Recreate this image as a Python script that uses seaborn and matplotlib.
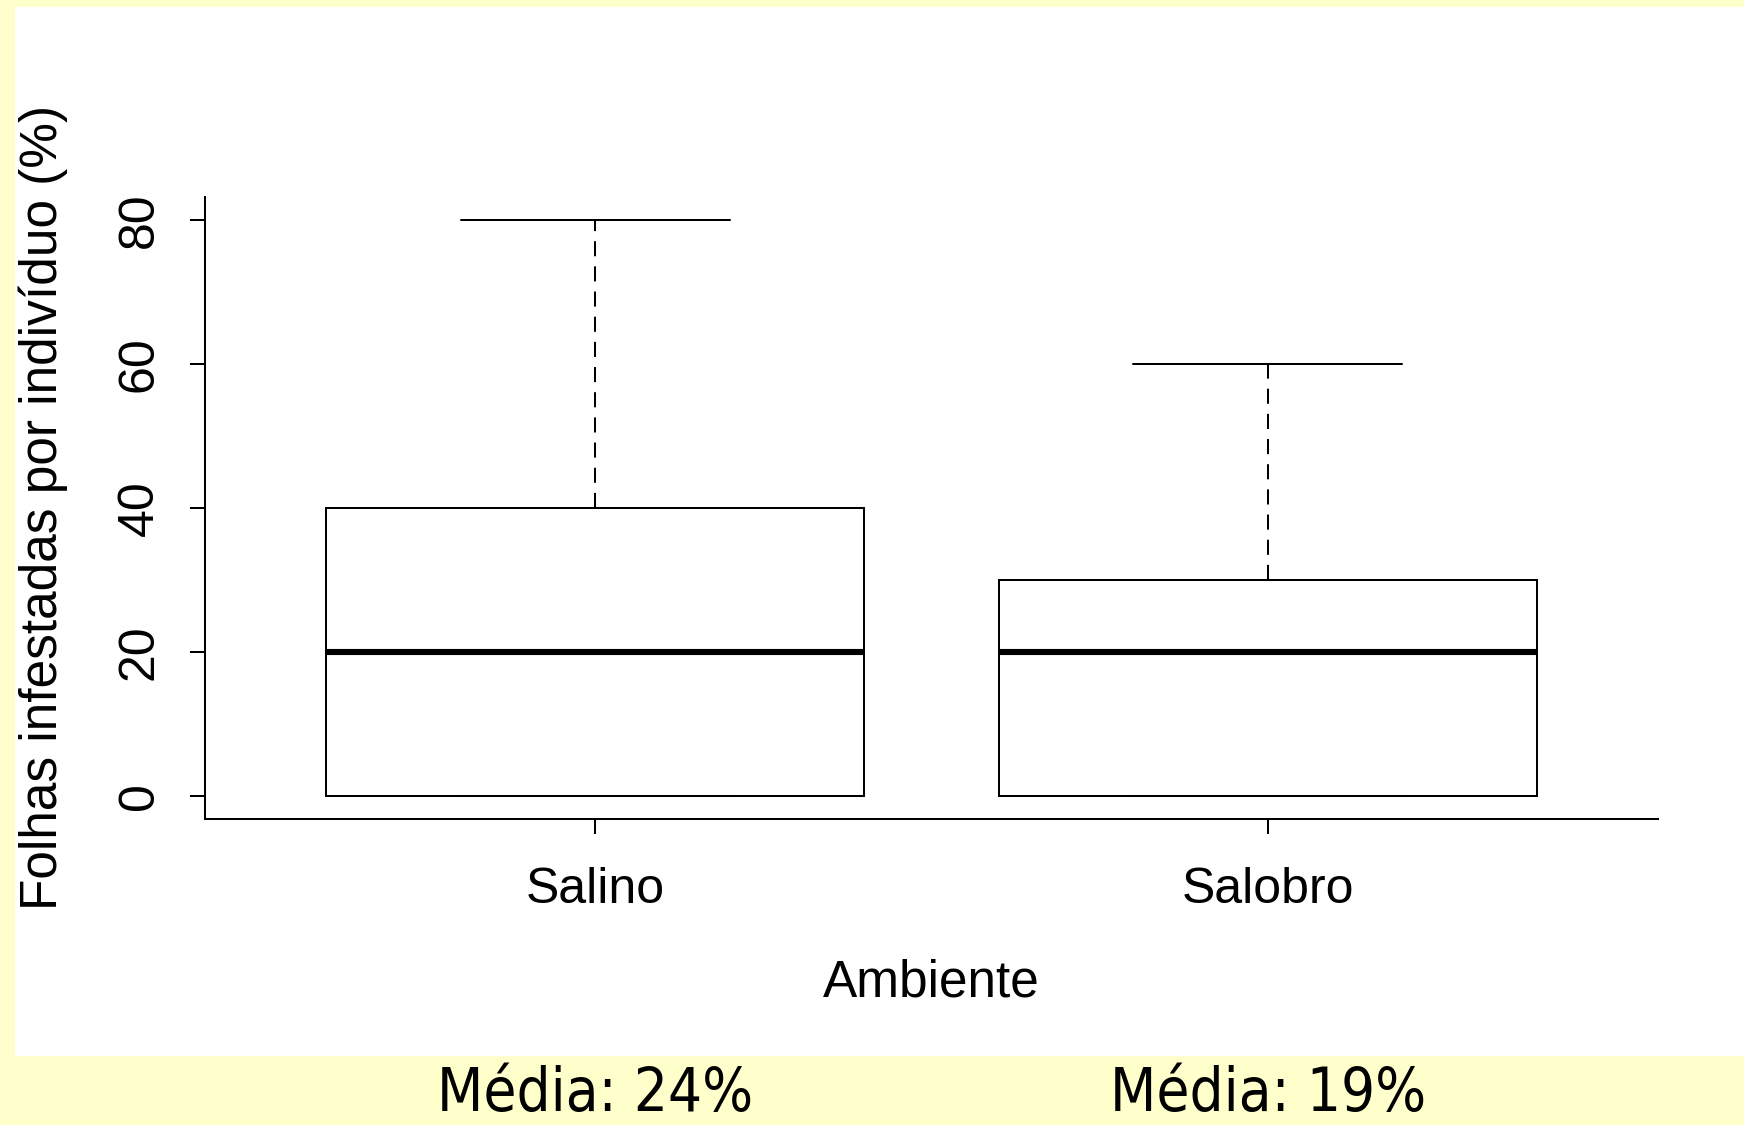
import matplotlib
matplotlib.use("Agg")
import matplotlib.pyplot as plt
from matplotlib import font_manager
from matplotlib.patches import Rectangle
from matplotlib.transforms import blended_transform_factory
import numpy as np
import pandas as pd
import seaborn as sns

# Percentage of infested leaves per individual, by environment
categories = ["Salino", "Salobro"]
salino_values = [0, 0, 0, 0, 0, 0, 0,
                 20, 20, 20, 20, 20, 20, 20, 20,
                 40, 40, 40, 40, 40, 40, 40, 40, 40,
                 80]
salobro_values = [0, 0, 0, 0, 0, 0,
                  10, 10, 10,
                  20, 20, 20, 20,
                  30, 30, 30, 30, 30,
                  60, 60]
y_ticks = [0, 20, 40, 60, 80]

x_label = "Ambiente"
y_label = "Folhas infestadas por indivíduo (%)"

df = pd.DataFrame({
    "Ambiente": [categories[0]] * len(salino_values) + [categories[1]] * len(salobro_values),
    "valor": salino_values + salobro_values,
})
means = [np.mean(salino_values), np.mean(salobro_values)]

sns.set_theme(style="ticks")
plt.rcParams["font.family"] = ["Liberation Sans", "DejaVu Sans"]

# a condensed face for the mean notes, if one is installed
note_font = dict(family="Liberation Sans", fontsize=40)
for f in font_manager.fontManager.ttflist:
    if ("Narrow" in f.fname or "Condensed" in f.fname) and f.weight in (400, "normal", "regular") \
            and f.style == "normal":
        note_font = dict(fontproperties=font_manager.FontProperties(fname=f.fname, size=43))
        break

W, H = 1744, 1125
fig = plt.figure(figsize=(W / 100, H / 100), dpi=100)
fig.patch.set_facecolor("#FFFFCC")

# white plotting panel
fig.patches.append(Rectangle((15 / W, (H - 1056) / H), 1.0, (1056 - 7) / H,
                             transform=fig.transFigure, facecolor="white",
                             edgecolor="none", zorder=-10))

ax = fig.add_axes([205 / W, (H - 819) / H, (1658 - 205) / W, (819 - 197) / H])
ax.set_facecolor("white")

lw = 1.45
sns.boxplot(
    data=df, x="Ambiente", y="valor", order=categories, ax=ax,
    color="white", linecolor="black", linewidth=lw, width=0.8, whis=1.5,
    fill=True,
    medianprops=dict(color="black", linewidth=4.4, solid_capstyle="butt"),
    whiskerprops=dict(color="black", linewidth=lw, linestyle=(0, (7.5, 5))),
    capprops=dict(color="black", linewidth=lw),
    boxprops=dict(facecolor="white", edgecolor="black", linewidth=lw),
)

ax.set_xlim(-0.58, 1.58)
ax.set_ylim(-3.2, 83.2)
ax.set_yticks(y_ticks)
ax.set_yticklabels([str(v) for v in y_ticks])

sns.despine(ax=ax)
for side in ("left", "bottom"):
    ax.spines[side].set_color("black")
    ax.spines[side].set_linewidth(lw)

ax.tick_params(axis="both", direction="out", length=10.5, width=lw, color="black",
               labelsize=36, labelcolor="black")
ax.tick_params(axis="x", pad=24)
ax.tick_params(axis="y", pad=20, labelrotation=90)
for t in ax.get_yticklabels():
    t.set_verticalalignment("center")

ax.set_xlabel(x_label, fontsize=37, color="black")
ax.set_ylabel(y_label, fontsize=37, color="black")
ax.xaxis.set_label_coords(0.5, -0.225)
ax.yaxis.set_label_coords(-0.094, 0.5)

# mean annotations under each group
tr = blended_transform_factory(ax.transData, fig.transFigure)
for i, m in enumerate(means):
    ax.text(i, 14 / H, f"Média: {m:.0f}%", transform=tr, ha="center", va="baseline",
            color="black", clip_on=False, **note_font)

fig.savefig("out.png", dpi=100, facecolor=fig.get_facecolor())
